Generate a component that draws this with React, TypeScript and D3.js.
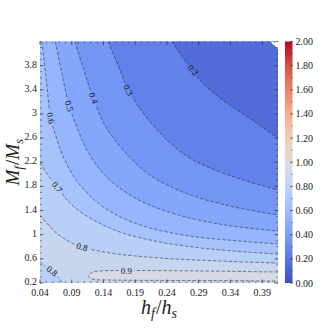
import React from 'react'
import * as d3 from 'd3'

const WIDTH = 334
const HEIGHT = 334
const LEFT = 40
const RIGHT = 278
const TOP = 41.5
const BOTTOM = 283
const CBAR_X = 285
const CBAR_W = 7.5
const FONT = "'Liberation Serif', 'DejaVu Serif', serif"

const xDomain = [0.04, 0.415]
const yDomain = [0.2, 4.2]
const xTicks = [0.04, 0.09, 0.14, 0.19, 0.24, 0.29, 0.34, 0.39]
const yTicks = [0.2, 0.6, 1, 1.4, 1.8, 2.2, 2.6, 3, 3.4, 3.8]
const cbarTicks = [0, 0.2, 0.4, 0.6, 0.8, 1.0, 1.2, 1.4, 1.6, 1.8, 2.0]

// coolwarm sampled at 0, 0.1, ... 1
const coolwarm = ['#3b4cc0', '#5977e3', '#7b9ff9', '#9ebeff', '#c0d4f5', '#dddcdc',
  '#f2cbb7', '#f7ac8e', '#ee8468', '#d65244', '#b40426']

// contour lines, points are [h_f/h_s, M_f/M_s]
const c01 = [[0.402, 4.2], [0.408, 4.14], [0.415, 4.07]]
const c02 = [[0.248, 4.2], [0.268, 3.892], [0.292, 3.561], [0.324, 3.263], [0.363, 2.981], [0.415, 2.601]]
const c03 = [[0.147, 4.2], [0.163, 3.809], [0.179, 3.395], [0.205, 2.981], [0.237, 2.601], [0.276, 2.27],
  [0.324, 2.038], [0.371, 1.872], [0.415, 1.74]]
const c04 = [[0.095, 4.2], [0.109, 3.727], [0.124, 3.263], [0.142, 2.816], [0.171, 2.402], [0.213, 1.988],
  [0.269, 1.69], [0.339, 1.475], [0.415, 1.326]]
const c05 = [[0.064, 4.2], [0.075, 3.644], [0.086, 3.13], [0.1, 2.733], [0.114, 2.402], [0.142, 1.988],
  [0.19, 1.607], [0.253, 1.342], [0.332, 1.16], [0.415, 1.061]]
const c06 = [[0.043, 4.2], [0.05, 3.561], [0.057, 2.932], [0.067, 2.568], [0.079, 2.236], [0.103, 1.822],
  [0.142, 1.442], [0.198, 1.16], [0.276, 0.978], [0.355, 0.895], [0.415, 0.846]]
const c07 = [[0.04, 2.187], [0.056, 1.938], [0.067, 1.789], [0.087, 1.524], [0.119, 1.276], [0.166, 1.044],
  [0.229, 0.879], [0.308, 0.763], [0.415, 0.68]]
const c08 = [[0.04, 1.326], [0.064, 1.044], [0.087, 0.879], [0.106, 0.796], [0.15, 0.697], [0.229, 0.614],
  [0.324, 0.564], [0.415, 0.531]]
const c08low = [[0.04, 0.548], [0.056, 0.415], [0.068, 0.299], [0.076, 0.2]]
const c09 = [[0.415, 0.382], [0.292, 0.399], [0.182, 0.407], [0.135, 0.399], [0.122, 0.374], [0.116, 0.316],
  [0.122, 0.266], [0.15, 0.25], [0.292, 0.241], [0.415, 0.233]]

const upperLines = [
  { level: 0.8, pts: c08 },
  { level: 0.7, pts: c07 },
  { level: 0.6, pts: c06 },
  { level: 0.5, pts: c05 },
  { level: 0.4, pts: c04 },
  { level: 0.3, pts: c03 },
  { level: 0.2, pts: c02 },
]

const clabels = [
  { text: '0.2', pts: c02, at: [0.281, 3.727] },
  { text: '0.3', pts: c03, at: [0.179, 3.395] },
  { text: '0.4', pts: c04, at: [0.124, 3.263] },
  { text: '0.5', pts: c05, at: [0.086, 3.13] },
  { text: '0.6', pts: c06, at: [0.057, 2.932] },
  { text: '0.7', pts: c07, at: [0.067, 1.789] },
  { text: '0.8', pts: c08, at: [0.106, 0.796] },
  { text: '0.8', pts: c08low, at: [0.059, 0.399] },
  { text: '0.9', pts: c09, at: [0.176, 0.404] },
]

const App = () => {
  const x = d3.scaleLinear().domain(xDomain).range([LEFT, RIGHT])
  const y = d3.scaleLinear().domain(yDomain).range([BOTTOM, TOP])
  const cmap = d3.scaleLinear<string>()
    .domain(coolwarm.map((_, i) => i * 0.2))
    .range(coolwarm)
    .interpolate(d3.interpolateRgb)
  const cbarY = d3.scaleLinear().domain([0, 2]).range([BOTTOM, TOP])

  const lineGen = d3.line<number[]>()
    .x(d => x(d[0]))
    .y(d => y(d[1]))
    .curve(d3.curveCatmullRom.alpha(0.5))

  const corners = `L${x(xDomain[1])},${y(yDomain[1])}L${x(xDomain[0])},${y(yDomain[1])}Z`

  const labelGeom = clabels.map(l => {
    const px = x(l.at[0])
    const py = y(l.at[1])
    let best = 0
    let bd = Infinity
    l.pts.forEach((p, i) => {
      const dd = (x(p[0]) - px) ** 2 + (y(p[1]) - py) ** 2
      if (dd < bd) { bd = dd; best = i }
    })
    const a = l.pts[Math.max(0, best - 1)]
    const b = l.pts[Math.min(l.pts.length - 1, best + 1)]
    let ang = Math.atan2(y(b[1]) - y(a[1]), x(b[0]) - x(a[0])) * 180 / Math.PI
    if (ang > 90) ang -= 180
    if (ang < -90) ang += 180
    return { ...l, px, py, ang }
  })

  const xMinor = d3.range(0.04, 0.4151, 0.01)
  const yMinor = d3.range(0.2, 4.201, 0.1)
  const cbMinor = d3.range(0, 2.001, 0.1)

  const lineStyle = { fill: 'none', stroke: '#1e1e1e', strokeWidth: 0.6, strokeDasharray: '3.5 1.8', strokeOpacity: 0.85 }

  return (
    <svg width={WIDTH} height={HEIGHT} viewBox={`0 0 ${WIDTH} ${HEIGHT}`}
      style={{ position: 'absolute', left: 0, top: 0, background: 'white' }}>
      <defs>
        <clipPath id="plotclip">
          <rect x={LEFT} y={TOP} width={RIGHT - LEFT} height={BOTTOM - TOP} />
        </clipPath>
        <mask id="labelmask" maskUnits="userSpaceOnUse" x={0} y={0} width={WIDTH} height={HEIGHT}>
          <rect x={0} y={0} width={WIDTH} height={HEIGHT} fill="white" />
          {labelGeom.map((l, i) => (
            <rect key={i} x={-8} y={-4.5} width={16} height={9} fill="black"
              transform={`translate(${l.px},${l.py}) rotate(${l.ang})`} />
          ))}
        </mask>
        <linearGradient id="cbar" x1="0" y1="1" x2="0" y2="0">
          {d3.range(0, 1.0001, 0.05).map(t => (
            <stop key={t} offset={t} stopColor={cmap(t * 2)} />
          ))}
        </linearGradient>
      </defs>

      <g clipPath="url(#plotclip)">
        <rect x={LEFT} y={TOP} width={RIGHT - LEFT} height={BOTTOM - TOP} fill={cmap(0.85)} />
        <path d={`${lineGen(c08low)}L${x(xDomain[0])},${y(yDomain[0])}Z`} fill={cmap(0.75)} />
        <path d={`${lineGen(c09)}Z`} fill={cmap(0.95)} />
        {upperLines.map(u => (
          <path key={u.level} d={`${lineGen(u.pts)}${corners}`} fill={cmap(u.level - 0.05)} />
        ))}
        <path d={`${lineGen(c01)}${corners}`} fill="white" />

        <g mask="url(#labelmask)">
          {[c01, ...upperLines.map(u => u.pts), c08low, c09].map((pts, i) => (
            <path key={i} d={lineGen(pts) ?? ''} style={lineStyle} />
          ))}
        </g>
      </g>

      {labelGeom.map((l, i) => (
        <text key={i} transform={`translate(${l.px},${l.py}) rotate(${l.ang})`}
          textAnchor="middle" dominantBaseline="central" fontFamily={FONT} fontSize={9} fill="#111">
          {l.text}
        </text>
      ))}

      {/* ticks, pointing in, on all four sides */}
      <g stroke="#333" strokeWidth={0.6}>
        {xTicks.map(t => (
          <g key={t}>
            <line x1={x(t)} x2={x(t)} y1={BOTTOM} y2={BOTTOM - 3.5} />
            <line x1={x(t)} x2={x(t)} y1={TOP} y2={TOP + 3.5} />
          </g>
        ))}
        {xMinor.map(t => (
          <g key={t}>
            <line x1={x(t)} x2={x(t)} y1={BOTTOM} y2={BOTTOM - 1.8} />
            <line x1={x(t)} x2={x(t)} y1={TOP} y2={TOP + 1.8} />
          </g>
        ))}
        {yTicks.map(t => (
          <g key={t}>
            <line x1={LEFT} x2={LEFT + 3.5} y1={y(t)} y2={y(t)} />
            <line x1={RIGHT} x2={RIGHT - 3.5} y1={y(t)} y2={y(t)} />
          </g>
        ))}
        {yMinor.map(t => (
          <g key={t}>
            <line x1={LEFT} x2={LEFT + 1.8} y1={y(t)} y2={y(t)} />
            <line x1={RIGHT} x2={RIGHT - 1.8} y1={y(t)} y2={y(t)} />
          </g>
        ))}
      </g>

      <g fontFamily={FONT} fontSize={10} fill="#222">
        {xTicks.map(t => (
          <text key={t} x={x(t)} y={BOTTOM + 12.5} textAnchor="middle">{t.toFixed(2)}</text>
        ))}
        {yTicks.map(t => (
          <text key={t} x={LEFT - 3} y={y(t)} dy={-1.5} textAnchor="end" dominantBaseline="central">{String(t)}</text>
        ))}
      </g>

      <text x={(LEFT + RIGHT) / 2} y={314} textAnchor="middle" fontFamily={FONT} fontSize={20} fill="#222">
        <tspan fontStyle="italic">h</tspan>
        <tspan fontStyle="italic" fontSize={14} dy={4}>f</tspan>
        <tspan dy={-4} dx={1}>/</tspan>
        <tspan fontStyle="italic">h</tspan>
        <tspan fontStyle="italic" fontSize={14} dy={4}>s</tspan>
      </text>
      <text transform={`translate(19,${(TOP + BOTTOM) / 2}) rotate(-90)`} textAnchor="middle"
        fontFamily={FONT} fontSize={19} fill="#222">
        <tspan fontStyle="italic">M</tspan>
        <tspan fontStyle="italic" fontSize={13} dy={3.5}>f</tspan>
        <tspan dy={-3.5} dx={1}>/</tspan>
        <tspan fontStyle="italic">M</tspan>
        <tspan fontStyle="italic" fontSize={13} dy={3.5}>s</tspan>
      </text>

      {/* colorbar */}
      <rect x={CBAR_X} y={TOP} width={CBAR_W} height={BOTTOM - TOP} fill="url(#cbar)" />
      <g stroke="#333" strokeWidth={0.6}>
        {cbarTicks.map(t => (
          <line key={t} x1={CBAR_X + CBAR_W} x2={CBAR_X + CBAR_W - 2.5} y1={cbarY(t)} y2={cbarY(t)} />
        ))}
        {cbMinor.map(t => (
          <line key={t} x1={CBAR_X + CBAR_W} x2={CBAR_X + CBAR_W - 1.3} y1={cbarY(t)} y2={cbarY(t)} />
        ))}
      </g>
      <g fontFamily={FONT} fontSize={10} fill="#222">
        {cbarTicks.map(t => (
          <text key={t} x={CBAR_X + CBAR_W + 3} y={cbarY(t)} dominantBaseline="central">{t.toFixed(2)}</text>
        ))}
      </g>
    </svg>
  )
}

export default App
